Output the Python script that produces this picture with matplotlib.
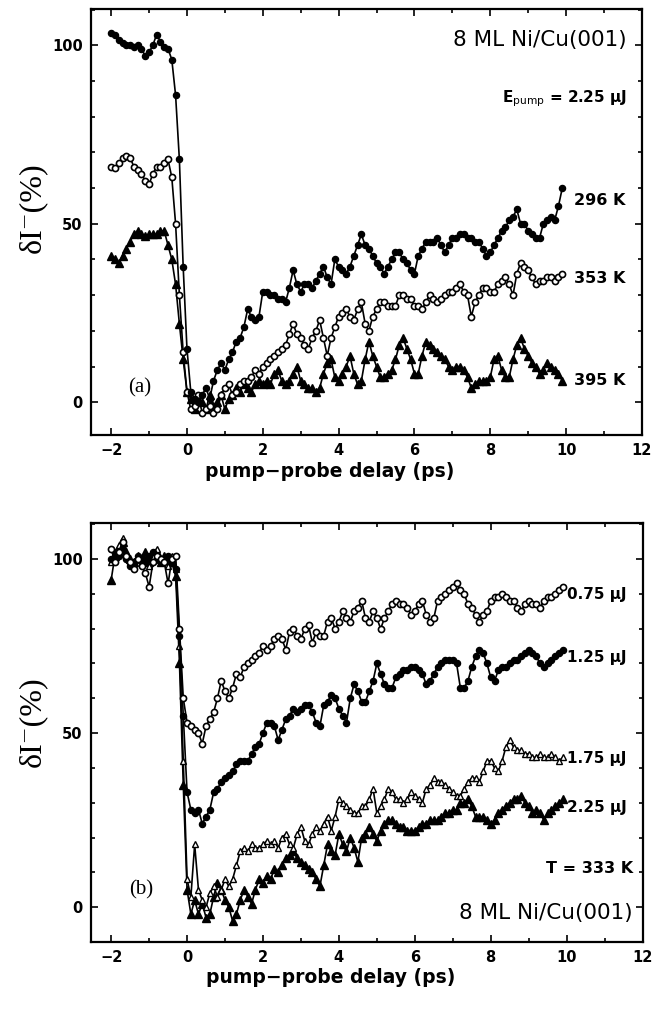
import matplotlib
matplotlib.use("Agg")
import matplotlib.pyplot as plt
from matplotlib.ticker import MultipleLocator

plt.rcParams['font.family'] = ['DejaVu Sans']
plt.rcParams['mathtext.fontset'] = 'custom'
plt.rcParams['mathtext.rm'] = 'DejaVu Sans'
plt.rcParams['mathtext.it'] = 'DejaVu Sans:italic'
plt.rcParams['mathtext.bf'] = 'DejaVu Sans:bold'

# pump-probe delay grid (ps), shared by all curves
delay = [-2.0, -1.9, -1.8, -1.7, -1.6, -1.5, -1.4, -1.3, -1.2, -1.1,
         -1.0, -0.9, -0.8, -0.7, -0.6, -0.5, -0.4, -0.3, -0.2, -0.1,
         0.0, 0.1, 0.2, 0.3, 0.4, 0.5, 0.6, 0.7, 0.8, 0.9,
         1.0, 1.1, 1.2, 1.3, 1.4, 1.5, 1.6, 1.7, 1.8, 1.9,
         2.0, 2.1, 2.2, 2.3, 2.4, 2.5, 2.6, 2.7, 2.8, 2.9,
         3.0, 3.1, 3.2, 3.3, 3.4, 3.5, 3.6, 3.7, 3.8, 3.9,
         4.0, 4.1, 4.2, 4.3, 4.4, 4.5, 4.6, 4.7, 4.8, 4.9,
         5.0, 5.1, 5.2, 5.3, 5.4, 5.5, 5.6, 5.7, 5.8, 5.9,
         6.0, 6.1, 6.2, 6.3, 6.4, 6.5, 6.6, 6.7, 6.8, 6.9,
         7.0, 7.1, 7.2, 7.3, 7.4, 7.5, 7.6, 7.7, 7.8, 7.9,
         8.0, 8.1, 8.2, 8.3, 8.4, 8.5, 8.6, 8.7, 8.8, 8.9,
         9.0, 9.1, 9.2, 9.3, 9.4, 9.5, 9.6, 9.7, 9.8, 9.9]

# panel (a): E_pump = 2.25 uJ, different temperatures
t296 = [103.5, 103, 101.5, 100.5, 100, 100, 99.5, 100, 99, 97,
        98, 100, 103, 101, 99.5, 99, 96, 86, 68, 38,
        15, 3, 1, 0, 2, 4, 1, 6, 9, 11,
        9, 12, 14, 17, 18, 21, 26, 24, 23, 24,
        31, 31, 30, 30, 29, 29, 28, 32, 37, 33,
        31, 33, 33, 32, 34, 36, 38, 35, 33, 40,
        38, 37, 36, 38, 41, 44, 47, 44, 43, 41,
        39, 38, 36, 38, 40, 42, 42, 40, 39, 37,
        36, 41, 43, 45, 45, 45, 46, 44, 42, 44,
        46, 46, 47, 47, 46, 46, 45, 45, 43, 41,
        42, 44, 46, 48, 49, 51, 52, 54, 50, 50,
        48, 47, 46, 46, 50, 51, 52, 51, 55, 60]
t353 = [66, 65.5, 67, 68.5, 69, 68.5, 66, 65, 64, 62,
        61, 64, 66, 66, 67, 68, 63, 50, 30, 14,
        3, -2, -1, 2, -3, -2, -1, -3, -2, 2,
        4, 5, 2, 3, 5, 6, 6, 7, 9, 8,
        10, 11, 12, 13, 14, 15, 16, 19, 22, 19,
        18, 16, 15, 18, 20, 23, 18, 13, 18, 21,
        24, 25, 26, 24, 23, 26, 28, 22, 20, 24,
        26, 28, 28, 27, 27, 27, 30, 30, 29, 29,
        27, 27, 26, 28, 30, 29, 28, 29, 30, 31,
        31, 32, 33, 31, 30, 24, 28, 30, 32, 32,
        31, 31, 33, 34, 35, 33, 30, 36, 39, 38,
        37, 35, 33, 34, 34, 35, 35, 34, 35, 36]
t395 = [41, 40, 39, 41, 43, 45, 47, 48, 47, 46.5,
        47, 47, 47, 48, 48, 44, 40, 33, 22, 12,
        3, 1, -2, 1, 0, -2, 2, -1, 0, 2,
        -2, 1, 2, 4, 3, 5, 4, 3, 5, 6,
        5, 6, 5, 8, 9, 6, 5, 6, 8, 10,
        6, 5, 4, 4, 3, 4, 8, 11, 12, 7,
        6, 8, 10, 13, 8, 5, 6, 12, 17, 13,
        10, 7, 7, 8, 9, 12, 16, 18, 15, 12,
        8, 8, 13, 17, 16, 15, 14, 13, 12, 10,
        9, 10, 10, 9, 7, 4, 5, 6, 6, 6,
        7, 12, 13, 9, 7, 7, 12, 16, 18, 15,
        13, 11, 10, 8, 9, 11, 10, 9, 8, 6]

# panel (b): T = 333 K, different pump energies
e075 = [103, 99, 102, 105, 101, 99, 97, 100, 98, 96,
        92, 99, 101, 100, 99, 93, 100, 101, 80, 60,
        53, 52, 51, 50, 47, 52, 54, 56, 60, 65,
        62, 60, 63, 67, 66, 69, 70, 71, 72, 73,
        75, 74, 75, 77, 78, 77, 74, 79, 80, 78,
        77, 80, 81, 76, 79, 78, 78, 82, 83, 80,
        82, 85, 83, 82, 85, 86, 88, 83, 82, 85,
        83, 80, 83, 85, 87, 88, 87, 87, 86, 84,
        85, 87, 88, 84, 82, 83, 88, 89, 90, 91,
        92, 93, 91, 90, 87, 86, 84, 82, 84, 85,
        88, 89, 89, 90, 89, 88, 88, 86, 85, 87,
        88, 87, 87, 86, 88, 89, 89, 90, 91, 92]
e125 = [100, 102, 101, 103, 100, 98, 99, 101, 100, 99,
        101, 102, 100, 99, 100, 101, 99, 97, 78, 55,
        33, 28, 27, 28, 24, 26, 28, 33, 34, 36,
        37, 38, 39, 41, 42, 42, 42, 44, 46, 47,
        50, 53, 53, 52, 48, 51, 54, 55, 57, 56,
        57, 58, 58, 56, 53, 52, 58, 59, 61, 60,
        57, 55, 53, 60, 64, 62, 59, 59, 62, 65,
        70, 67, 64, 63, 63, 66, 67, 68, 68, 69,
        69, 68, 67, 64, 65, 67, 69, 70, 71, 71,
        71, 70, 63, 63, 65, 69, 72, 74, 73, 70,
        66, 65, 68, 69, 69, 70, 71, 71, 72, 73,
        74, 73, 72, 70, 69, 70, 71, 72, 73, 74]
e175 = [99, 102, 104, 106, 101, 99, 98, 101, 99, 100,
        98, 101, 103, 99, 100, 98, 101, 97, 75, 42,
        8, 3, 18, 5, 2, 0, 4, 6, 3, 5,
        8, 6, 8, 12, 16, 17, 16, 18, 17, 17,
        18, 19, 18, 19, 17, 20, 21, 18, 17, 21,
        23, 19, 18, 21, 23, 22, 24, 26, 22, 26,
        31, 30, 29, 28, 27, 27, 29, 29, 31, 34,
        27, 29, 31, 34, 33, 31, 31, 30, 31, 33,
        32, 31, 30, 34, 35, 37, 36, 36, 35, 34,
        33, 32, 32, 34, 36, 37, 37, 36, 39, 42,
        42, 40, 39, 42, 46, 48, 46, 45, 45, 44,
        44, 43, 43, 44, 43, 43, 44, 43, 42, 43]
e225 = [94, 101, 103, 105, 102, 100, 99, 101, 100, 102,
        99, 100, 102, 99, 101, 100, 99, 95, 70, 35,
        5, -2, 2, -2, 1, -3, -2, 3, 7, 5,
        2, 0, -4, -2, 2, 5, 3, 1, 5, 8,
        7, 9, 8, 11, 10, 12, 14, 15, 16, 14,
        13, 12, 11, 10, 8, 6, 12, 18, 16, 15,
        21, 18, 16, 20, 17, 13, 20, 21, 23, 21,
        19, 22, 24, 25, 25, 24, 23, 23, 22, 22,
        22, 23, 24, 24, 25, 25, 25, 26, 27, 27,
        28, 28, 30, 30, 31, 29, 26, 26, 26, 25,
        24, 25, 27, 28, 29, 30, 31, 31, 32, 30,
        29, 27, 28, 27, 25, 27, 28, 29, 30, 31]

temp_labels = ["296 K", "353 K", "395 K"]
energy_labels = ["0.75 μJ", "1.25 μJ", "1.75 μJ", "2.25 μJ"]

fig = plt.figure(figsize=(6.55, 10.19), dpi=100)
ax1 = fig.add_axes([0.139, 0.573, 0.841, 0.418])
ax2 = fig.add_axes([0.139, 0.0756, 0.842, 0.411])

ln = dict(color='black', lw=1.2)
ax1.plot(delay, t395, marker='^', ms=5.5, mfc='black', mec='black', **ln)
ax1.plot(delay, t353, marker='o', ms=4.4, mfc='white', mec='black', mew=1.2, **ln)
ax1.plot(delay, t296, marker='o', ms=4.4, mfc='black', mec='black', **ln)

ax2.plot(delay, e225, marker='^', ms=5.5, mfc='black', mec='black', **ln)
ax2.plot(delay, e175, marker='^', ms=3.8, mfc='white', mec='black', mew=1.0, **ln)
ax2.plot(delay, e125, marker='o', ms=4.4, mfc='black', mec='black', **ln)
ax2.plot(delay, e075, marker='o', ms=4.4, mfc='white', mec='black', mew=1.2, **ln)

ax1.set_ylim(-9.2, 110.1)
ax2.set_ylim(-10, 110.3)
ylab_pos = [0.535, 0.525]
for ax, yp in zip((ax1, ax2), ylab_pos):
    ax.set_xlim(-2.53, 12.0)
    ax.xaxis.set_major_locator(MultipleLocator(2))
    ax.xaxis.set_minor_locator(MultipleLocator(1))
    ax.yaxis.set_major_locator(MultipleLocator(50))
    ax.yaxis.set_minor_locator(MultipleLocator(10))
    ax.tick_params(which='both', direction='in', top=True, right=True, width=1.2)
    ax.tick_params(which='major', length=5, labelsize=10.5, pad=6)
    ax.tick_params(which='minor', length=3)
    for lab in ax.get_xticklabels() + ax.get_yticklabels():
        lab.set_fontweight('bold')
    for sp in ax.spines.values():
        sp.set_linewidth(1.6)
    ax.text(0.434, -0.085, "pump−probe delay (ps)", transform=ax.transAxes,
            ha='center', va='center', fontsize=13.5, fontweight='bold')
    ax.text(-0.107, yp, "δI⁻(%)", transform=ax.transAxes, rotation=90,
            ha='center', va='center', fontsize=23,
            family=['Liberation Serif', 'DejaVu Serif'])

# panel (a) annotations
ax1.text(11.6, 101.4, "8 ML Ni/Cu(001)", ha='right', va='center', fontsize=15.5)
ax1.text(11.6, 85, r"E$_{\rm pump}$ = 2.25 μJ", ha='right', va='center',
         fontsize=11, fontweight='bold')
for lab, yv in zip(temp_labels, [56.6, 34.7, 6.2]):
    ax1.text(10.2, yv, lab, ha='left', va='center', fontsize=11.5, fontweight='bold')
ax1.text(-1.24, 3.9, "(a)", ha='center', va='center', fontsize=15,
         family='Liberation Serif')

# panel (b) annotations
for lab, yv in zip(energy_labels, [89.7, 71.6, 42.8, 28.7]):
    ax2.text(10.0, yv, lab, ha='left', va='center', fontsize=11, fontweight='bold')
ax2.text(11.74, 11.2, "T = 333 K", ha='right', va='center', fontsize=11.5,
         fontweight='bold')
ax2.text(11.74, -1.7, "8 ML Ni/Cu(001)", ha='right', va='center', fontsize=15.5)
ax2.text(-1.2, 4.9, "(b)", ha='center', va='center', fontsize=15,
         family='Liberation Serif')

fig.savefig("out.png", dpi=100)
